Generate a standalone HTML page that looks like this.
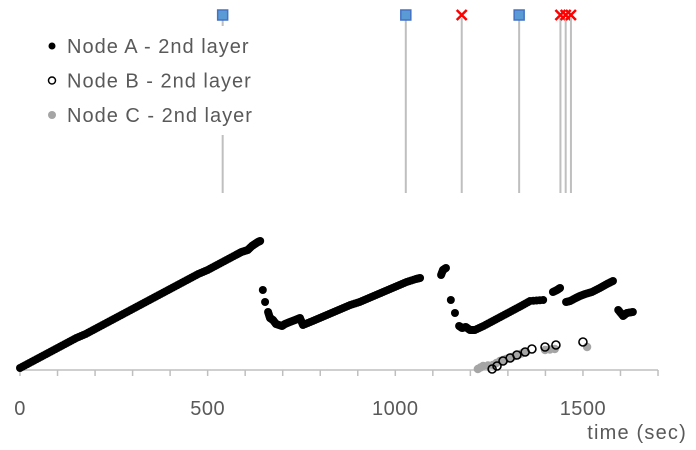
<!DOCTYPE html>
<html><head><meta charset="utf-8"><style>
body{margin:0;background:#fff;}
svg{display:block;font-family:"Liberation Sans",sans-serif;}
</style></head><body>
<svg id="c" width="696" height="450"></svg>
<script>
const aX=[0,25,50,75,100,125,150,175,200,225,250,275,300,325,350,375,400,425,450,475,500,525,550,575,590,607,618,626,634,640,
647,653,661,666,674,682,698,706,719,733,746,754,780,805,830,855,880,905,930,955,980,1005,1030,1055,1066,
1122,1127,1135,1148,1159,1170,1178,1188,1199,1212,1235,1260,1285,1310,1335,1359,
1394,1420,1431,1439,1455,1466,1481,1492,1506,1524,1545,1564,1580,1594,1607,1617,1633];
const aY=[2,7,12,17,22,27,32,36,41,46,51,56,61,66,71,76,81,86,91,96,100,105,110,115,118,120,124,126,128,129,
80,68,58,52,50,46,44,46,48,50,52,45,49,53,57,61,65,68,72,76,80,84,88,91,92,
95,100,102,70,57,44,42,43,40,40,44,49,54,59,64,69,
70,78,80,82,68,69,72,74,76,78,82,86,89,60,54,57,58];
const bX=[1258,1271,1287,1306,1324,1346,1364,1399,1428,1500];
const bY=[1,4,9,12,15,18,21,23,25,28];
const cX=[1220,1234,1260,1279,1295,1311,1327,1346,1399,1425,1511];
const cY=[1,4,5,9,11,13,15,18,20,21,23];
const eventsSq=[540,1028,1330];
const eventsX=[1177,1440,1454,1468];
const ticks=[0,100,200,300,400,500,600,700,800,900,1000,1100,1200,1300,1400,1500,1600,1700];
const tickLabels=[0,500,1000,1500];

const NS="http://www.w3.org/2000/svg";
const svg=document.getElementById('c');
const xs=v=>20+v*0.3753;
const ys=v=>370-v;
function mk(t,a,p){const e=document.createElementNS(NS,t);for(const k in a)e.setAttribute(k,a[k]);(p||svg).appendChild(e);return e;}

let ax=mk('line',{x1:xs(0),x2:xs(1700),y1:370,y2:370,stroke:'#bfbfbf','stroke-width':1.5});


ticks.forEach(t=>{let l=mk('line',{x1:xs(t),x2:xs(t),y1:370,y2:376,stroke:'#bfbfbf','stroke-width':1.5});

});
tickLabels.forEach(t=>{let e=mk('text',{x:xs(t),y:415,'text-anchor':'middle','font-size':20,fill:'#595959','letter-spacing':0.5});e.textContent=t;

});
let ttl=mk('text',{x:687,y:439,'text-anchor':'end','font-size':20,fill:'#595959','letter-spacing':1.2});ttl.textContent='time (sec)';



eventsSq.forEach((v,i)=>{
  const x=xs(v);
  let l=mk('line',{x1:x,x2:x,y1:(i==0?135:20),y2:193,stroke:'#bfbfbf','stroke-width':2});
  
  
  if(i==0){let l2=mk('line',{x1:x,x2:x,y1:20,y2:26,stroke:'#bfbfbf','stroke-width':2});
  
  }
  let r=mk('rect',{x:x-5,y:10,width:10,height:10,fill:'#5b9bd5',stroke:'#4472c4','stroke-width':1.5});
  
  
});
eventsX.forEach(v=>{
  const x=xs(v);
  let l=mk('line',{x1:x,x2:x,y1:18,y2:193,stroke:'#bfbfbf','stroke-width':2});
  
  
  let g=mk('path',{d:`M${x-5},${10}L${x+5},${20}M${x+5},${10}L${x-5},${20}`,stroke:'#ff0000','stroke-width':2.5});
  
  
});

cX.forEach((v,i)=>{let c=mk('circle',{cx:xs(v),cy:ys(cY[i]),r:4.2,fill:'#a5a5a5'});

});
for(let i=0;i<cX.length-1;i++){ if(cX[i+1]-cX[i]<=30){
  let c=mk('circle',{cx:xs((cX[i]+cX[i+1])/2),cy:ys((cY[i]+cY[i+1])/2),r:4.2,fill:'#a5a5a5'});
  
  }}
bX.forEach((v,i)=>{let c=mk('circle',{cx:xs(v),cy:ys(bY[i]),r:4,fill:'none',stroke:'#000','stroke-width':1.6});

});
function aDot(x,y){let c=mk('circle',{cx:xs(x),cy:ys(y),r:4,fill:'#000'});
  
  }
for(let i=0;i<aX.length-1;i++){
  const dx=aX[i+1]-aX[i], dy=aY[i+1]-aY[i];
  if(dx<=36 && Math.abs(dy)<=7){
    for(let k=1;k<4;k++) aDot(aX[i]+dx*k/4, aY[i]+dy*k/4);
  }
}
aX.forEach((v,i)=>aDot(v,aY[i]));

const leg=[['Node A - 2nd layer','a'],['Node B - 2nd layer','b'],['Node C - 2nd layer','c']];
leg.forEach((l,i)=>{
  const y=46+i*34.5;
  let m;
  if(l[1]=='a')m=mk('circle',{cx:52,cy:y,r:3.5,fill:'#000'});
  else if(l[1]=='b')m=mk('circle',{cx:52,cy:y,r:3.5,fill:'none',stroke:'#000','stroke-width':1.5});
  else m=mk('circle',{cx:52,cy:y,r:4,fill:'#a5a5a5'});
  
  
  let t=mk('text',{x:67,y:y+7,'font-size':20,fill:'#595959','letter-spacing':1});t.textContent=l[0];
  
  
});
</script>
</body></html>
